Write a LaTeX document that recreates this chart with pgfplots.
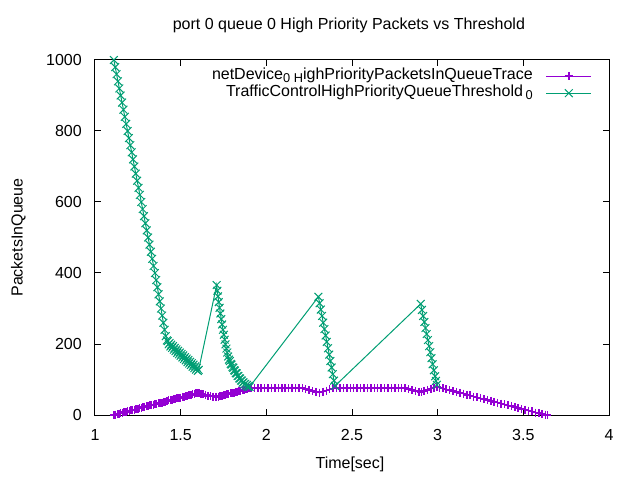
\documentclass[12pt,border=0pt]{standalone}
\usepackage{fontspec}
\setmainfont{Liberation Sans}
\usepackage{pgfplots}
\pgfplotsset{compat=1.18}
\definecolor{gpurple}{HTML}{9400D3}
\definecolor{ggreen}{HTML}{009E73}
\newcommand{\gfont}{\fontsize{16bp}{19bp}\selectfont}
\newcommand{\sub}[1]{\raisebox{-0.35ex}{\fontsize{12.8bp}{14bp}\selectfont #1}}

\begin{document}
\begin{tikzpicture}[font=\gfont]
\path[use as bounding box] (-95bp,-65bp) rectangle (545bp,415bp);
\begin{axis}[
  scale only axis,
  width=514bp, height=355bp,
  xmin=1, xmax=4, ymin=0, ymax=1000,
  xtick={1,1.5,2,2.5,3,3.5,4},
  ytick={0,200,400,600,800,1000},
  xtick pos=both, ytick pos=both,
  tick align=inside,
  major tick length=6bp,
  axis line style={black, line width=1bp},
  tick style={black, line width=1bp},
  scaled y ticks=false,
  /pgf/number format/1000 sep={},
  /pgf/number format/assume math mode=true,
  tick label style={font=\gfont},
  label style={font=\gfont},
  xticklabel style={anchor=center, yshift=-20bp},
  yticklabel style={anchor=east, inner sep=0pt, xshift=-13bp},
  title={port 0 queue 0 High Priority Packets vs Threshold},
  title style={at={(axis description cs:0.494,1.068)}, anchor=base, font=\gfont},
  xlabel={Time[sec]},
  xlabel style={at={(axis description cs:0.496,-0.152)}, anchor=base},
  ylabel={PacketsInQueue},
  ylabel style={at={(axis description cs:-0.141,0.5)}, anchor=base, rotate=0},
  legend plot pos=right,
  legend cell align=right,
  legend image code/.code={\draw[mark repeat=2,mark phase=2,#1] plot coordinates {(0bp,0bp) (22.5bp,0bp) (45bp,0bp)};},
  legend style={at={(axis description cs:1,1)}, anchor=north east,
    xshift=-14bp, yshift=-6bp, draw=none, fill=none,
    column sep=13bp, row sep=1bp,
    font=\gfont,
    nodes={inner sep=0pt, text height=11.5bp, text depth=4.5bp}},
]
\addplot[gpurple, line width=1bp, mark=+, mark size=4bp,
  mark options={line width=1.5bp}] coordinates {
  (1.11,0) (1.12,1) (1.13,2) (1.14,4) (1.15,5) (1.16,6) (1.17,8) (1.18,9)
  (1.19,10) (1.20,11) (1.21,13) (1.22,14) (1.23,15) (1.24,16) (1.25,18)
  (1.26,19) (1.27,20) (1.28,22) (1.29,23) (1.30,24) (1.31,25) (1.32,27)
  (1.33,28) (1.34,29) (1.35,30) (1.36,32) (1.37,33) (1.38,34) (1.39,35)
  (1.40,37) (1.41,38) (1.42,39) (1.43,41) (1.44,42) (1.45,43) (1.46,44)
  (1.47,46) (1.48,47) (1.49,48) (1.50,49) (1.51,51) (1.52,52) (1.53,53)
  (1.54,54) (1.55,56) (1.56,57) (1.57,58) (1.58,60) (1.59,61) (1.60,62)
  (1.61,61) (1.62,60) (1.63,58) (1.645,56) (1.66,54) (1.675,53) (1.69,52)
  (1.705,51) (1.72,52) (1.73,53) (1.74,54) (1.75,56) (1.76,57) (1.77,58)
  (1.78,59) (1.79,61) (1.80,62) (1.81,63) (1.82,65) (1.83,66) (1.84,67)
  (1.85,68) (1.86,70) (1.87,71) (1.88,72) (1.89,73) (1.90,75) (1.91,76)
  (1.93,76) (1.95,76) (1.97,76) (1.99,76) (2.01,76) (2.03,76) (2.05,76)
  (2.07,76) (2.09,76) (2.11,76) (2.13,76) (2.15,76) (2.17,76) (2.19,76)
  (2.21,76) (2.23,73) (2.25,70) (2.27,67) (2.29,65) (2.31,63) (2.33,66)
  (2.35,69) (2.37,72) (2.39,75) (2.41,76) (2.43,76) (2.45,76) (2.47,76)
  (2.49,76) (2.51,76) (2.53,76) (2.55,76) (2.57,76) (2.59,76) (2.61,76)
  (2.63,76) (2.65,76) (2.67,76) (2.69,76) (2.71,76) (2.73,76) (2.75,76)
  (2.77,76) (2.79,76) (2.81,76) (2.83,73) (2.85,70) (2.87,68) (2.89,66)
  (2.905,65) (2.92,68) (2.94,71) (2.96,74) (2.98,77) (2.995,79)
  (3.01,77) (3.03,75) (3.05,72) (3.07,70) (3.09,67) (3.11,65) (3.13,62)
  (3.15,60) (3.17,57) (3.19,55) (3.21,52) (3.23,50) (3.25,47) (3.27,45)
  (3.29,42) (3.31,40) (3.33,37) (3.35,35) (3.37,32) (3.39,30) (3.41,27)
  (3.43,25) (3.45,22) (3.47,20) (3.49,17) (3.51,15) (3.53,12) (3.55,10)
  (3.57,7) (3.59,5) (3.61,3) (3.63,1) (3.64,0)
};
\addlegendentry{netDevice\sub{0 H}ighPriorityPacketsInQueueTrace}
\addplot[ggreen, line width=1bp, mark=x, mark size=5.5bp,
  mark options={line width=1bp}] coordinates {
  (1.110,1000) (1.118,980) (1.126,960) (1.134,940) (1.142,920) (1.150,900)
  (1.158,880) (1.166,860) (1.174,840) (1.182,820) (1.190,800) (1.198,780)
  (1.206,760) (1.214,740) (1.222,720) (1.230,700) (1.238,680) (1.246,660)
  (1.254,640) (1.262,620) (1.270,600) (1.278,580) (1.286,560) (1.294,540)
  (1.302,520) (1.310,500) (1.318,480) (1.326,460) (1.334,440) (1.342,420)
  (1.350,400) (1.357,380) (1.364,360) (1.371,340) (1.378,320) (1.385,300)
  (1.392,280) (1.399,260) (1.406,240) (1.413,222) (1.420,210)
  (1.425,208) (1.430,199) (1.435,203) (1.440,193) (1.445,198) (1.450,189)
  (1.455,194) (1.460,184) (1.465,189) (1.470,180) (1.475,185) (1.480,175)
  (1.485,181) (1.490,171) (1.495,176) (1.500,167) (1.505,172) (1.510,162)
  (1.515,168) (1.520,158) (1.525,163) (1.530,154) (1.535,159) (1.540,149)
  (1.545,155) (1.550,145) (1.555,150) (1.560,141) (1.565,146) (1.570,136)
  (1.575,142) (1.580,132) (1.585,137) (1.590,128) (1.595,133) (1.600,124)
  (1.605,127)
  (1.710,366) (1.714,350) (1.718,334) (1.722,318) (1.727,302) (1.732,286)
  (1.737,270) (1.742,255) (1.747,240) (1.752,226) (1.757,212) (1.762,199)
  (1.767,187) (1.772,176) (1.777,165) (1.782,156)
  (1.787,152) (1.792,144) (1.797,142) (1.802,135) (1.807,133) (1.812,126)
  (1.817,125) (1.822,118) (1.827,117) (1.832,110) (1.837,110) (1.842,103)
  (1.847,103) (1.852,97) (1.857,97) (1.862,91) (1.867,92) (1.872,86)
  (1.877,88) (1.882,82) (1.887,85) (1.892,79) (1.897,82) (1.902,79)
  (2.304,333) (2.311,315) (2.318,297) (2.325,279) (2.332,260) (2.339,242)
  (2.346,224) (2.353,206) (2.360,188) (2.367,170) (2.374,152) (2.381,134)
  (2.388,115) (2.395,97) (2.401,82)
  (2.901,313) (2.908,296) (2.915,279) (2.922,262) (2.929,245) (2.936,228)
  (2.943,211) (2.950,194) (2.957,177) (2.964,160) (2.971,143) (2.978,126)
  (2.985,109) (2.990,96) (2.995,85)
};
\addlegendentry{TrafficControlHighPriorityQueueThreshold\,\sub{0}}
\end{axis}
\end{tikzpicture}
\end{document}
